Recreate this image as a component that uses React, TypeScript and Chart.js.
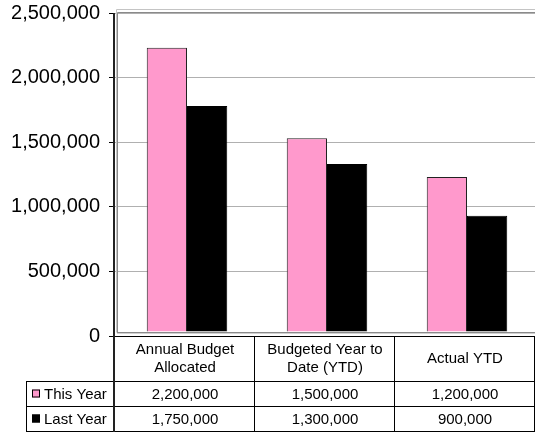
import React, { useEffect, useRef } from "react";
import { Chart, registerables } from "chart.js";

Chart.register(...registerables);

const categoryLines: string[][] = [
  ["Annual Budget", "Allocated"],
  ["Budgeted Year to", "Date (YTD)"],
  ["Actual YTD"],
];
const seriesNames = ["This Year", "Last Year"];
const thisYear = [2200000, 1500000, 1200000];
const lastYear = [1750000, 1300000, 900000];
const seriesColors = ["#FF99CC", "#000000"];
const yMin = 0;
const yMax = 2500000;
const yStep = 500000;

const FONT = 'Arial, "Liberation Sans", sans-serif';
const fmt = (v: number) => v.toLocaleString("en-US");

const tablePlugin = {
  id: "dataTable",
  beforeDatasetsDraw(chart: any) {
    const { ctx, chartArea: a } = chart;
    ctx.save();
    ctx.lineWidth = 1;
    // back wall (outer light line)
    ctx.strokeStyle = "#c4c4c4";
    ctx.beginPath();
    ctx.moveTo(a.left + 1.5, a.bottom - 3.5);
    ctx.lineTo(a.left + 1.5, a.top - 3.5);
    ctx.lineTo(a.right, a.top - 3.5);
    ctx.stroke();
    // inner darker line
    ctx.strokeStyle = "#8a8a8a";
    ctx.beginPath();
    ctx.moveTo(a.left + 2.5, a.bottom - 3.5);
    ctx.lineTo(a.left + 2.5, a.top - 0.5);
    ctx.lineTo(a.right, a.top - 0.5);
    ctx.stroke();
    // floor
    ctx.strokeStyle = "#8a8a8a";
    ctx.beginPath();
    ctx.moveTo(a.left + 2, a.bottom - 3.5);
    ctx.lineTo(a.right, a.bottom - 3.5);
    ctx.stroke();
    ctx.strokeStyle = "#d0d0d0";
    ctx.beginPath();
    ctx.moveTo(a.left + 2, a.bottom - 2.5);
    ctx.lineTo(a.right, a.bottom - 2.5);
    ctx.stroke();
    ctx.restore();
    ctx.save();
    ctx.translate(2, -4);
  },
  afterDatasetsDraw(chart: any) {
    chart.ctx.restore();
  },
  afterDraw(chart: any) {
    const { ctx, chartArea: a } = chart;
    const xs = chart.scales.x;
    const n = categoryLines.length;
    const colW = (a.right - a.left) / n;
    const headerH = 46;
    const rowH = 25;
    const top = a.bottom;
    const r1 = top + headerH;
    const r2 = r1 + rowH;
    const r3 = r2 + rowH;
    const legendLeft = 26;

    ctx.save();
    ctx.strokeStyle = "#000";
    ctx.lineWidth = 1;
    ctx.beginPath();
    // horizontal lines
    ctx.moveTo(a.left, top + 0.5);
    ctx.lineTo(a.right, top + 0.5);
    [r1, r2, r3].forEach((y) => {
      ctx.moveTo(legendLeft, y - 0.5);
      ctx.lineTo(a.right, y - 0.5);
    });
    // vertical lines
    for (let i = 1; i <= n; i++) {
      const x = Math.round(a.left + i * colW) - 0.5;
      ctx.moveTo(x, top);
      ctx.lineTo(x, r3);
    }
    ctx.moveTo(legendLeft + 0.5, r1);
    ctx.lineTo(legendLeft + 0.5, r3);
    ctx.stroke();

    // main vertical axis
    ctx.lineWidth = 2;
    ctx.strokeStyle = "#222";
    ctx.beginPath();
    ctx.moveTo(a.left - 1, a.top);
    ctx.lineTo(a.left - 1, r3);
    ctx.stroke();

    // header text
    ctx.fillStyle = "#000";
    ctx.font = `15px ${FONT}`;
    ctx.textAlign = "center";
    ctx.textBaseline = "middle";
    const lh = 18;
    categoryLines.forEach((lines, i) => {
      const cx = xs.getPixelForValue(i);
      const cy = top + headerH / 2;
      lines.forEach((ln, j) => {
        ctx.fillText(ln, cx, cy + (j - (lines.length - 1) / 2) * lh);
      });
    });
    // values
    const series = [thisYear, lastYear];
    series.forEach((vals, s) => {
      const cy = r1 + s * rowH + rowH / 2;
      vals.forEach((v, i) => {
        ctx.fillText(fmt(v), xs.getPixelForValue(i), cy + 0.5);
      });
      // legend
      ctx.fillStyle = seriesColors[s];
      ctx.fillRect(legendLeft + 6, cy - 5, 8, 8);
      ctx.strokeStyle = "#000";
      ctx.lineWidth = 1;
      ctx.strokeRect(legendLeft + 6.5, cy - 4.5, 7, 7);
      ctx.fillStyle = "#000";
      ctx.textAlign = "left";
      ctx.fillText(seriesNames[s], legendLeft + 18, cy + 0.5);
      ctx.textAlign = "center";
    });
    ctx.restore();
  },
};

export default function App() {
  const ref = useRef<HTMLCanvasElement | null>(null);
  useEffect(() => {
    document.body.style.margin = "0";
    if (!ref.current) return;
    const chart = new Chart(ref.current, {
      type: "bar",
      data: {
        labels: categoryLines.map((l) => l.join(" ")),
        datasets: [
          {
            label: seriesNames[0],
            data: thisYear,
            backgroundColor: seriesColors[0],
            borderColor: "#222",
            borderWidth: 1,
            categoryPercentage: 0.575,
            barPercentage: 1,
          },
          {
            label: seriesNames[1],
            data: lastYear,
            backgroundColor: seriesColors[1],
            borderColor: "#000",
            borderWidth: 1,
            categoryPercentage: 0.575,
            barPercentage: 1,
          },
        ],
      },
      options: {
        animation: false,
        responsive: false,
        devicePixelRatio: 1,
        layout: { padding: { top: 13, bottom: 97, left: 0, right: 0 } },
        plugins: {
          legend: { display: false },
          tooltip: { enabled: false },
        },
        scales: {
          x: { display: false },
          y: {
            min: yMin,
            max: yMax,
            ticks: {
              stepSize: yStep,
              padding: 9,
              color: "#000",
              font: { size: 20, family: FONT },
              callback: (v: any) => fmt(Number(v)),
            },
            grid: {
              color: "#b0b0b0",
              tickColor: "#000",
              tickLength: 6,
              lineWidth: 1,
            },
            border: { display: false },
            afterFit: (scale: any) => {
              scale.width = 115;
              scale.paddingTop = 0;
              scale.paddingBottom = 0;
            },
          },
        },
      },
      plugins: [tablePlugin],
    });
    return () => chart.destroy();
  }, []);
  return <canvas ref={ref} width={535} height={433} />;
}
